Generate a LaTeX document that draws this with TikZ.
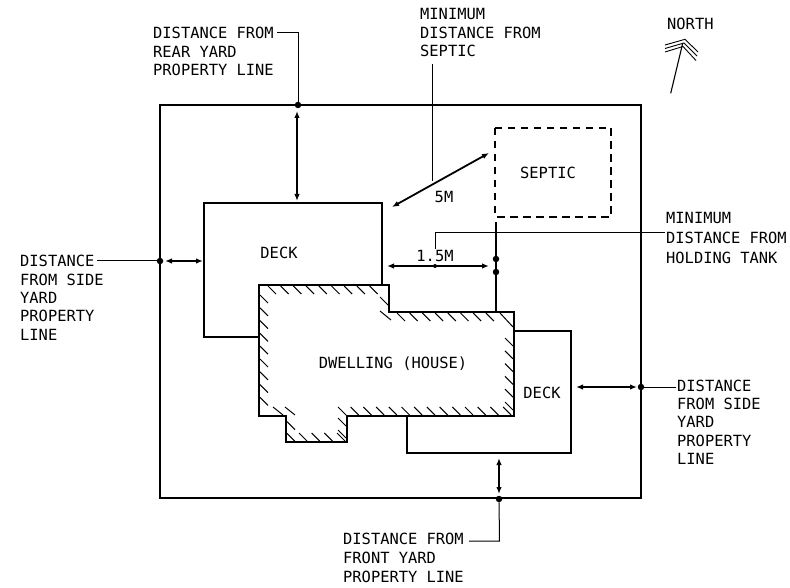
\documentclass[tikz,border=0pt]{standalone}
\usepackage{fontspec}
\setmainfont{DejaVu Sans Mono}
\usetikzlibrary{arrows.meta}
\tikzset{
  lbl/.style={font=\fontsize{15.4}{18.4}\selectfont,align=left,inner sep=0pt,anchor=north west},
  tag/.style={font=\fontsize{15.4}{18}\selectfont},
  wall/.style={line width=2.8pt,line join=miter},
  outline/.style={line width=2pt},
  dim/.style={line width=1.8pt,{Latex[length=7pt,width=5.5pt]}-{Latex[length=7pt,width=5.5pt]}},
  lead/.style={line width=1pt},
  dot/.style={circle,fill=black,inner sep=0pt,minimum size=6.5pt},
  hatch/.style={line width=1pt}
}
\begin{document}
\begin{tikzpicture}[x=1pt,y=-1pt]
\useasboundingbox (0,0) rectangle (790,588);
% lot
\draw[line width=2.3pt] (160,105) rectangle (641,498);
% decks
\draw[outline] (382,285) -- (382,203) -- (204,203) -- (204,337) -- (259,337);
\draw[outline] (514,331) -- (571,331) -- (571,453) -- (407,453) -- (407,416);
% house
\draw[wall] (259,285) -- (389,285) -- (389,312) -- (514,312) -- (514,416) -- (347,416)
      -- (347,442) -- (286,442) -- (286,416) -- (259,416) -- cycle;
\foreach \x in {268,280.7,...,380} \draw[hatch] (\x,286) -- ++(8,8);
\draw[hatch] (380,297) -- (389,306);
\draw[hatch] (380,311) -- (391,320);
\foreach \x in {397,409.7,...,495} \draw[hatch] (\x,313) -- ++(8,8);
\draw[hatch] (500,313) -- (513,327);
\foreach \y in {295,307.8,...,405} \draw[hatch] (260,\y) -- ++(8,8);
\foreach \y in {338,350.8,...,405} \draw[hatch] (505,\y) -- ++(8,8);
\foreach \x in {338,350.7,...,506} \draw[hatch] (\x,407) -- ++(8,8);
\foreach \x in {273,285} \draw[hatch] (\x,407) -- ++(10,8);
\foreach \y in {421.7,433.3} \draw[hatch] (287,\y) -- ++(8,8);
\foreach \x in {299,311.7,324.4,337} \draw[hatch] (\x,433) -- ++(8,8);
\foreach \y in {418,430} \draw[hatch] (338,\y) -- ++(8,8);
\node[tag] (house) at (393,364) {DWELLING (HOUSE)};
\node[tag] (deckA) at (279,253) {DECK};
\node[tag] (deckB) at (542,393) {DECK};
% septic
\draw[line width=2.2pt,dash pattern=on 7.5pt off 5.5pt] (495,128) rectangle (611,217);
\node[tag] (septic) at (548,173) {SEPTIC};
% dots
\node[dot] (rear) at (298,105) {};
\node[dot] (side) at (160,261) {};
\node[dot] (east) at (641,387) {};
\node[dot] (front) at (499,499) {};
\node[dot] (tankA) at (496,259) {};
\node[dot] (tankB) at (496,272) {};
\coordinate (tankTop) at (496,222);
\coordinate (tankEnd) at (496,312);
% texts
\node[lbl] (lblRear) at (153,27) {DISTANCE FROM\\REAR YARD\\PROPERTY LINE};
\node[lbl] (lblSeptic) at (420,8.5) {MINIMUM\\DISTANCE FROM\\SEPTIC};
\node[lbl] (lblNorth) at (667,18) {NORTH};
\node[lbl] (lblSide) at (20,255) {DISTANCE\\FROM SIDE\\YARD\\PROPERTY\\LINE};
\node[lbl,font=\fontsize{15.4}{20}\selectfont] (lblTank) at (666,212) {MINIMUM\\DISTANCE FROM\\HOLDING TANK};
\node[lbl] (lblEast) at (677,379.5) {DISTANCE\\FROM SIDE\\YARD\\PROPERTY\\LINE};
\node[lbl,font=\fontsize{15.4}{19}\selectfont] (lblFront) at (343,532.5) {DISTANCE FROM\\FRONT YARD\\PROPERTY LINE};
\node[tag,inner sep=1pt] (gapA) at (435,256) {1.5M};
\node[tag] (gapB) at (444,197) {5M};
% leaders
\draw[lead] (rear) -- (298,33) -- (277,33);
\draw[lead] (side) -- (97,261);
\draw[lead] (east) -- (676,387);
\draw[lead] (front) -- (499.5,541) -- (469,541);
\draw[lead] (432,64) -- (432,181);
\draw[lead] (gapA.north) -- (435,233) -- (665,233);
\draw[lead,line width=1.1pt] (tankTop) -- (tankA) -- (tankB) -- (tankEnd);
% dimensions
\draw[dim] (297,111) -- (297,201);
\draw[dim] (165,261) -- (203,261);
\draw[dim] (576,387) -- (637,387);
\draw[dim] (499,458) -- (499,494);
\draw[dim] (387,266) -- (489,266);
\draw[dim] (392,207) -- (489,153);
\node[dot,minimum size=4pt] (tick) at (435,266) {};
% north
\draw[line width=1.1pt] (670.7,93.3) -- (682.7,43.3);
\draw[line width=.9pt] (665,45) -- (685,39.3) -- (698,52);
\draw[line width=.9pt] (665,48.5) -- (684,43) -- (697,56);
\draw[line width=.9pt] (665,52) -- (683,46.5) -- (696,60.5);
\end{tikzpicture}
\end{document}
